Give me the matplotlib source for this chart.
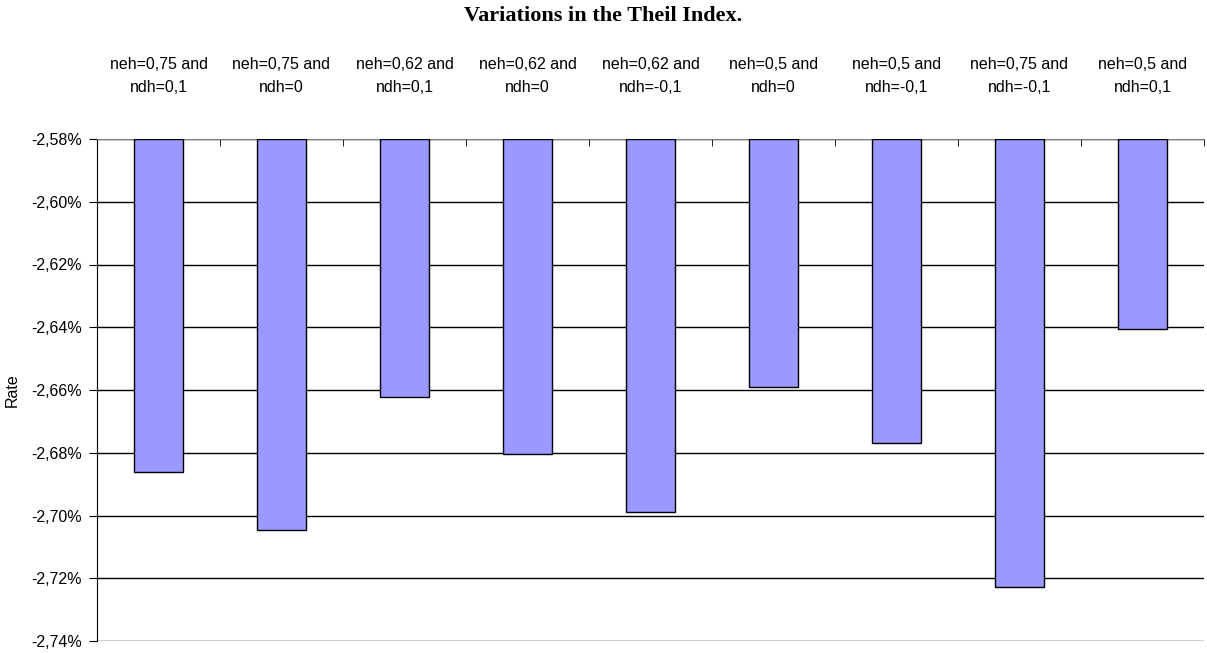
import matplotlib.pyplot as plt
import numpy as np

categorias = ["neh=0,75 and\nndh=0,1", "neh=0,75 and\nndh=0", "neh=0,62 and\nndh=0,1",
              "neh=0,62 and\nndh=0", "neh=0,62 and\nndh=-0,1", "neh=0,5 and\nndh=0",
              "neh=0,5 and\nndh=-0,1", "neh=0,75 and\nndh=-0,1", "neh=0,5 and\nndh=0,1"]
valores = [-2.686, -2.7045, -2.6621, -2.6804, -2.6988, -2.6592, -2.6770, -2.7228, -2.6407]
yticks = [-2.58, -2.60, -2.62, -2.64, -2.66, -2.68, -2.70, -2.72, -2.74]

base = -2.58

fig = plt.figure(figsize=(12.07, 6.53), dpi=100)
ax = fig.add_axes([97/1207, 12/653, (1204-97)/1207, (641-139)/653])

x = np.arange(len(categorias))
alturas = np.array(valores) - base
ax.bar(x, alturas, bottom=base, width=0.4, color='#9999FF', edgecolor='black', linewidth=1, zorder=3)

ax.set_xlim(-0.5, len(categorias) - 0.5)
ax.set_ylim(-2.74, -2.58)
ax.set_yticks(yticks)
ax.set_yticklabels([("%.2f%%" % v).replace('.', ',') for v in yticks],
                   fontsize=11.5, family='Liberation Sans')
ax.yaxis.grid(True, color='black', linewidth=1, zorder=0)

ax.xaxis.tick_top()
ax.set_xticks(np.arange(len(categorias) + 1) - 0.5, minor=True)
ax.set_xticks(x)
ax.set_xticklabels(categorias, fontsize=11.5, family='Liberation Sans', linespacing=1.6)
ax.tick_params(axis='x', which='major', length=0, pad=32)
ax.tick_params(axis='x', which='minor', direction='in', length=5, color='black')
ax.tick_params(axis='y', direction='out', length=6, color='black', pad=5)

for s in ['right', 'bottom']:
    ax.spines[s].set_visible(False)
ax.spines['top'].set_color('#808080')
ax.spines['left'].set_color('black')

ax.set_ylabel('Rate', fontsize=11.5, family='Liberation Sans', labelpad=8)
fig.text(0.5, 1 - 16/653, 'Variations in the Theil Index.', ha='center', va='center',
         fontsize=16, fontweight='bold', family='Liberation Serif')

fig.savefig('out.png', dpi=100)
